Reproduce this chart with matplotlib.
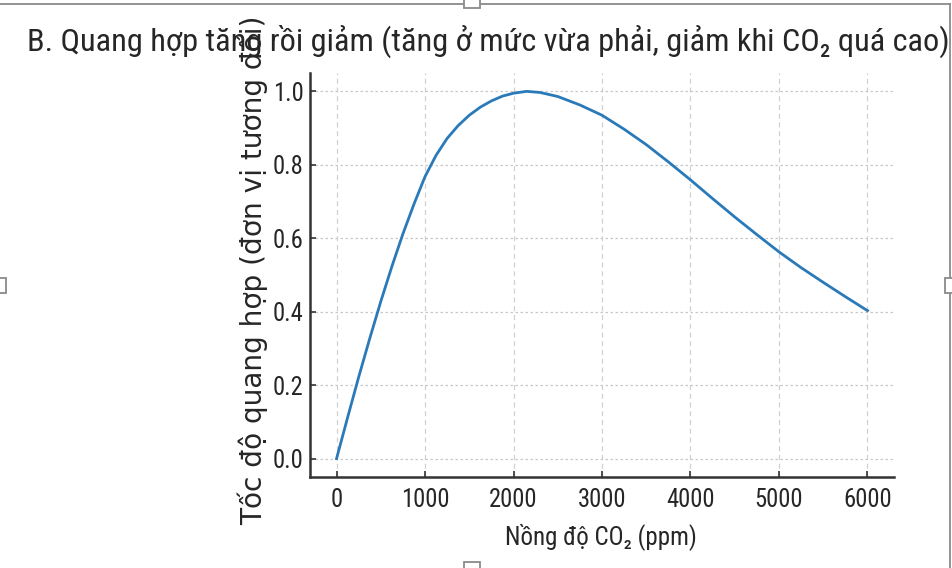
import matplotlib
matplotlib.use("Agg")
import matplotlib.pyplot as plt
from matplotlib import font_manager
from matplotlib.patches import Rectangle
from matplotlib.lines import Line2D

# values
co2 = [0, 125, 250, 375, 500, 625, 750, 875, 1000, 1125, 1250, 1375, 1500,
       1625, 1750, 1875, 2000, 2150, 2300, 2500, 2750, 3000, 3250, 3500,
       3750, 4000, 4250, 4500, 4750, 5000, 5250, 5500, 5750, 6000]
rate = [0.0, 0.112, 0.222, 0.327, 0.428, 0.523, 0.612, 0.693, 0.768, 0.826,
        0.872, 0.907, 0.935, 0.957, 0.974, 0.987, 0.995, 1.0, 0.997, 0.986,
        0.963, 0.935, 0.897, 0.855, 0.808, 0.759, 0.708, 0.658, 0.610, 0.563,
        0.520, 0.480, 0.441, 0.403]
xticks = [0, 1000, 2000, 3000, 4000, 5000, 6000]
yticks = [0.0, 0.2, 0.4, 0.6, 0.8, 1.0]

title = "B. Quang hợp tăng rồi giảm (tăng ở mức vừa phải, giảm khi CO₂ quá cao)"
xlabel = "Nồng độ CO₂ (ppm)"
ylabel = "Tốc độ quang hợp (đơn vị tương đối)"

# pick a narrow face that has a regular (400) weight
regular = {f.name for f in font_manager.fontManager.ttflist
           if f.style == "normal" and f.weight in (400, "normal", "regular", "book")}
narrow = "DejaVu Sans"
for cand in ["Liberation Sans Narrow", "Noto Sans Condensed", "Open Sans Condensed",
             "DejaVu Sans Condensed", "Roboto Condensed", "PT Sans Narrow",
             "Archivo Narrow", "Asap Condensed", "Barlow Semi Condensed"]:
    if cand in regular:
        narrow = cand
        break
fam = [narrow, "DejaVu Sans"]
ink = "#262626"

W, H = 952, 568
fig = plt.figure(figsize=(W / 100, H / 100), dpi=100)


def fx(px):
    return px / W


def fy(py):
    return 1 - py / H


ax = fig.add_axes([fx(310), fy(477), fx(894) - fx(310), fy(73) - fy(477)])
ax.plot(co2, rate, color="#2a7ab9", lw=2.0, zorder=3, solid_joinstyle="round")
ax.set_xlim(-300, 6300)
ax.set_ylim(-0.05, 1.05)
ax.set_xticks(xticks)
ax.set_yticks(yticks)
ax.set_xticklabels([str(t) for t in xticks], family=fam, weight="normal",
                   fontsize=17, color=ink)
ax.set_yticklabels([f"{t:.1f}" for t in yticks], family=fam, weight="normal",
                   fontsize=17, color=ink)
ax.tick_params(direction="in", length=4, width=1.2, color="#333333")
ax.tick_params(axis="y", pad=4.5)
ax.tick_params(axis="x", pad=8)

ax.yaxis.grid(True, color="#c8c8c8", lw=0.9, dashes=(2, 2))
ax.xaxis.grid(True, color="#d0d0d0", lw=0.9, dashes=(4, 3))
ax.set_axisbelow(True)
for s in ["top", "right"]:
    ax.spines[s].set_visible(False)
for s in ["left", "bottom"]:
    ax.spines[s].set_color("#333333")
    ax.spines[s].set_linewidth(1.8)

yl = fig.text(fx(262), fy(525), ylabel, family="DejaVu Sans", fontsize=20,
              color=ink, rotation=90, rotation_mode="anchor",
              ha="left", va="baseline", zorder=1)
tt = fig.text(fx(27), fy(51), title, family=fam, weight="normal", fontsize=22,
              color=ink, ha="left", va="baseline", zorder=5)
xl = fig.text(fx(601), fy(544), xlabel, family=fam, weight="normal", fontsize=17,
              color=ink, ha="center", va="baseline")

# scale font sizes so the text spans match the reference
fig.canvas.draw()
r = fig.canvas.get_renderer()
tt.set_fontsize(tt.get_fontsize() * 921 / tt.get_window_extent(r).width)
xl.set_fontsize(xl.get_fontsize() * 192 / xl.get_window_extent(r).width)
yl.set_fontsize(yl.get_fontsize() * 510 / yl.get_window_extent(r).height)
tick_w = ax.get_xticklabels()[3].get_window_extent(r).width
ax.tick_params(labelsize=17 * 49 / tick_w)

# screenshot frame and selection handles
edge = "#8a8a8a"
fig.add_artist(Line2D([0, fx(950)], [fy(4), fy(4)], transform=fig.transFigure,
                      color=edge, lw=1.3))
fig.add_artist(Line2D([fx(950), fx(950)], [fy(4), 0], transform=fig.transFigure,
                      color=edge, lw=1.3))
for (x0, y0, x1, y1) in [(464, -2, 480, 8), (945, 278, 956, 293),
                         (-4, 278, 6, 293), (464, 562, 480, 572)]:
    fig.add_artist(Rectangle((fx(x0), fy(y1)), fx(x1) - fx(x0), fy(y0) - fy(y1),
                             transform=fig.transFigure, facecolor="white",
                             edgecolor=edge, lw=1.3, zorder=10))

fig.savefig("out.png", dpi=100)
print("Saved out.png with", narrow)
